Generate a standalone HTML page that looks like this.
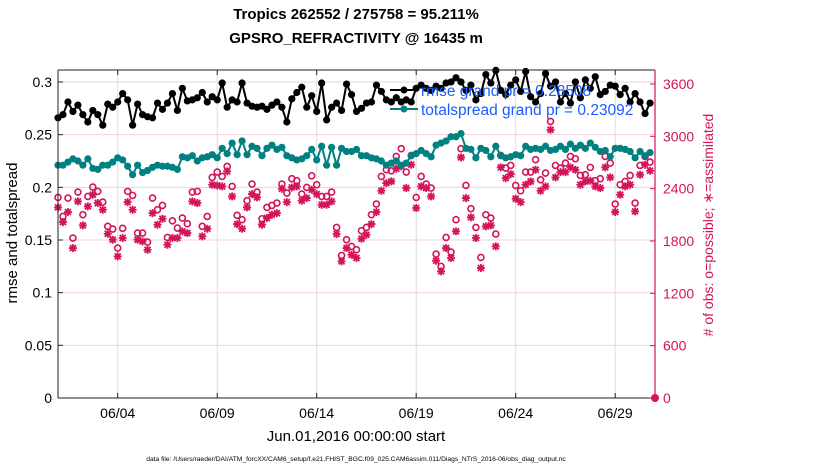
<!DOCTYPE html>
<html><head><meta charset="utf-8"><style>
html,body{margin:0;padding:0;background:#fff;}
svg{display:block;font-family:"Liberation Sans",sans-serif;}
</style></head><body>
<svg id="chart" width="830" height="470" viewBox="0 0 830 470" xmlns="http://www.w3.org/2000/svg">
<text x="356" y="19" text-anchor="middle" font-size="15" font-weight="bold">Tropics 262552 / 275758 = 95.211%</text>
<text x="356" y="43" text-anchor="middle" font-size="15" font-weight="bold">GPSRO_REFRACTIVITY @ 16435 m</text>
<g id="grid"></g>
<g id="marks"></g>
<g id="axes"></g>
<text transform="translate(17,233) rotate(-90)" text-anchor="middle" font-size="15">rmse and totalspread</text>
<text transform="translate(713,225) rotate(-90)" text-anchor="middle" font-size="14" fill="#d4145a"># of obs: o=possible; ∗=assimilated</text>
<text x="356" y="441" text-anchor="middle" font-size="15">Jun.01,2016 00:00:00 start</text>
<text x="356" y="461" text-anchor="middle" font-size="6.7">data file: /Users/raeder/DAI/ATM_forcXX/CAM6_setup/f.e21.FHIST_BGC.f09_025.CAM6assim.011/Diags_NTrS_2016-06/obs_diag_output.nc</text>
<g id="legend">
<line x1="390" y1="90" x2="418" y2="90" stroke="#000" stroke-width="2"/>
<circle cx="404" cy="90" r="3.5" fill="#000"/>
<text x="421" y="96" font-size="15.5" fill="#1a5cff">rmse grand pr = 0.28508</text>
<line x1="390" y1="109" x2="418" y2="109" stroke="#008080" stroke-width="2"/>
<circle cx="404" cy="109" r="3.5" fill="#008080"/>
<text x="421" y="115" font-size="15.5" fill="#1a5cff">totalspread grand pr = 0.23092</text>
</g>
</svg>
<script>
const rmse=[0.266,0.269,0.281,0.272,0.278,0.269,0.262,0.273,0.269,0.259,0.279,0.276,0.281,0.289,0.283,0.259,0.279,0.269,0.267,0.266,
0.280,0.274,0.280,0.289,0.273,0.294,0.282,0.283,0.285,0.290,0.281,0.286,0.283,0.299,0.276,0.283,0.281,0.299,0.280,0.277,
0.276,0.277,0.274,0.278,0.281,0.276,0.262,0.284,0.290,0.295,0.276,0.287,0.272,0.299,0.264,0.276,0.280,0.273,0.298,0.288,
0.272,0.275,0.280,0.281,0.297,0.291,0.283,0.281,0.285,0.281,0.283,0.281,0.294,0.297,0.294,0.292,0.296,0.294,0.299,0.300,
0.304,0.300,0.292,0.297,0.283,0.289,0.307,0.299,0.311,0.292,0.288,0.297,0.302,0.291,0.310,0.286,0.281,0.289,0.308,0.296,
0.300,0.281,0.289,0.280,0.300,0.285,0.302,0.294,0.305,0.288,0.291,0.297,0.296,0.288,0.294,0.281,0.289,0.281,0.270,0.280];
const spread=[0.221,0.221,0.224,0.227,0.225,0.221,0.227,0.218,0.217,0.221,0.221,0.224,0.228,0.226,0.220,0.212,0.221,0.214,0.216,0.219,
0.221,0.220,0.220,0.219,0.217,0.229,0.228,0.230,0.225,0.228,0.229,0.231,0.228,0.237,0.232,0.242,0.231,0.244,0.231,0.239,
0.237,0.230,0.237,0.240,0.236,0.238,0.230,0.228,0.226,0.227,0.230,0.236,0.226,0.239,0.221,0.238,0.221,0.237,0.234,0.234,
0.236,0.230,0.230,0.228,0.227,0.225,0.221,0.223,0.225,0.221,0.223,0.230,0.232,0.235,0.232,0.229,0.240,0.242,0.244,0.248,
0.248,0.251,0.237,0.236,0.228,0.237,0.235,0.229,0.239,0.230,0.228,0.229,0.231,0.230,0.239,0.236,0.237,0.236,0.239,0.235,
0.236,0.239,0.236,0.241,0.237,0.240,0.237,0.242,0.238,0.234,0.235,0.229,0.237,0.237,0.236,0.234,0.228,0.234,0.230,0.233];
const possible=[2300,2082,2292,1834,2361,2101,2311,2418,2369,2246,1968,1937,1719,1945,2369,2323,1891,1891,1788,2292,
2159,2208,1841,2032,1948,2063,1998,2361,2369,1968,2082,2529,2590,2540,2655,2426,2094,2044,2262,2453,
2361,2055,2185,2208,2235,2453,2350,2514,2491,2338,2414,2548,2445,2311,2311,2361,1956,1635,1815,1738,
1700,1918,1956,2101,2223,2540,2617,2605,2770,2858,2590,2781,2300,2540,2453,2407,1650,1509,1841,1673,
2044,2858,2437,2170,1956,1612,2101,2063,1880,2781,2636,2667,2437,2376,2590,2590,2732,2502,2579,3171,
2667,2636,2693,2770,2743,2552,2560,2644,2491,2514,2770,2693,2223,2445,2483,2552,2235,2667,2770,2705];
const assimilated=[2185,2017,2132,1719,2254,1979,2197,2330,2235,2158,1883,1815,1624,1834,2246,2158,1815,1796,1700,2120,
1987,2055,1757,1834,1834,1910,1891,2254,2235,1853,1941,2445,2437,2426,2598,2311,1994,1941,2185,2338,
2300,1987,2063,2101,2120,2399,2246,2414,2426,2262,2292,2388,2338,2216,2216,2254,1880,1566,1719,1643,
1605,1826,1872,1994,2132,2376,2464,2483,2628,2655,2407,2674,2178,2426,2407,2311,1574,1452,1719,1605,
1910,2758,2292,2071,1834,1490,1968,1979,1738,2644,2521,2567,2285,2246,2445,2483,2617,2376,2426,3075,
2529,2590,2590,2644,2617,2445,2483,2491,2426,2407,2644,2529,2132,2330,2426,2445,2140,2560,2674,2605];
const leftTicks=[0,0.05,0.1,0.15,0.2,0.25,0.3];
const leftTickLabels=["0","0.05","0.1","0.15","0.2","0.25","0.3"];
const rightTicks=[0,600,1200,1800,2400,3000,3600];
const xTickDays=[3,8,13,18,23,28];
const xTickLabels=["06/04","06/09","06/14","06/19","06/24","06/29"];
const stepDays=0.25;

const L=58,R=655,T=70,B=398;
const NS="http://www.w3.org/2000/svg";
function xs(d){return L+(d/30)*(R-L);}
function yl(v){return B-(v/0.05)*52.67;}
function yr(v){return B-v*(314/3600);}
function mk(tag,attrs,parent){const e=document.createElementNS(NS,tag);for(const k in attrs)e.setAttribute(k,attrs[k]);parent.appendChild(e);return e;}
const grid=document.getElementById('grid'),marks=document.getElementById('marks'),axes=document.getElementById('axes');
leftTicks.forEach(v=>{const l=mk('line',{x1:L,x2:R,y1:yl(v),y2:yl(v),stroke:'#f3cfdc','stroke-width':1},grid);

});
xTickDays.forEach(d=>{const l=mk('line',{x1:xs(d),x2:xs(d),y1:T,y2:B,stroke:'#dcdcdc','stroke-width':1},grid);

});
function line(vals,color,name){
 const pts=vals.map((v,i)=>xs(i*stepDays)+','+yl(v)).join(' ');
 const p=mk('polyline',{points:pts,fill:'none',stroke:color,'stroke-width':2},marks);
 
 
 vals.forEach((v,i)=>{const c=mk('circle',{cx:xs(i*stepDays),cy:yl(v),r:3.6,fill:color},marks);
 
 });
}
const PINK='#d4145a';
possible.forEach((v,i)=>{const c=mk('circle',{cx:xs(i*stepDays),cy:yr(v),r:3,fill:'none',stroke:PINK,'stroke-width':1.6},marks);

});
assimilated.forEach((v,i)=>{const x=xs(i*stepDays),y=yr(v),s=4;
const g=mk('path',{d:`M${x-s},${y}H${x+s}M${x},${y-s}V${y+s}M${x-3},${y-3}L${x+3},${y+3}M${x-3},${y+3}L${x+3},${y-3}`,stroke:PINK,'stroke-width':1.8},marks);

});
line(spread,'#008080','totalspread');
line(rmse,'#000000','rmse');
const z=mk('circle',{cx:R,cy:B,r:4,fill:PINK},marks);


mk('line',{x1:L,x2:R,y1:T,y2:T,stroke:'#222','stroke-width':1},axes);
mk('line',{x1:L,x2:R,y1:B,y2:B,stroke:'#222','stroke-width':1},axes);
mk('line',{x1:L,x2:L,y1:T,y2:B,stroke:'#222','stroke-width':1},axes);
mk('line',{x1:R,x2:R,y1:T,y2:B,stroke:PINK,'stroke-width':1.2},axes);
leftTicks.forEach((v,i)=>{mk('line',{x1:L,x2:L+5,y1:yl(v),y2:yl(v),stroke:'#222'},axes);
const t=mk('text',{x:L-6,y:yl(v)+5,'text-anchor':'end','font-size':14},axes);t.textContent=leftTickLabels[i];

});
rightTicks.forEach(v=>{mk('line',{x1:R-5,x2:R,y1:yr(v),y2:yr(v),stroke:PINK},axes);
const t=mk('text',{x:R+8,y:yr(v)+5,'font-size':14,fill:PINK},axes);t.textContent=String(v);

});
xTickDays.forEach((d,i)=>{mk('line',{x1:xs(d),x2:xs(d),y1:B,y2:B-5,stroke:'#222'},axes);
mk('line',{x1:xs(d),x2:xs(d),y1:T,y2:T+5,stroke:'#222'},axes);
const t=mk('text',{x:xs(d),y:418,'text-anchor':'middle','font-size':14},axes);t.textContent=xTickLabels[i];

});
</script>
</body></html>
